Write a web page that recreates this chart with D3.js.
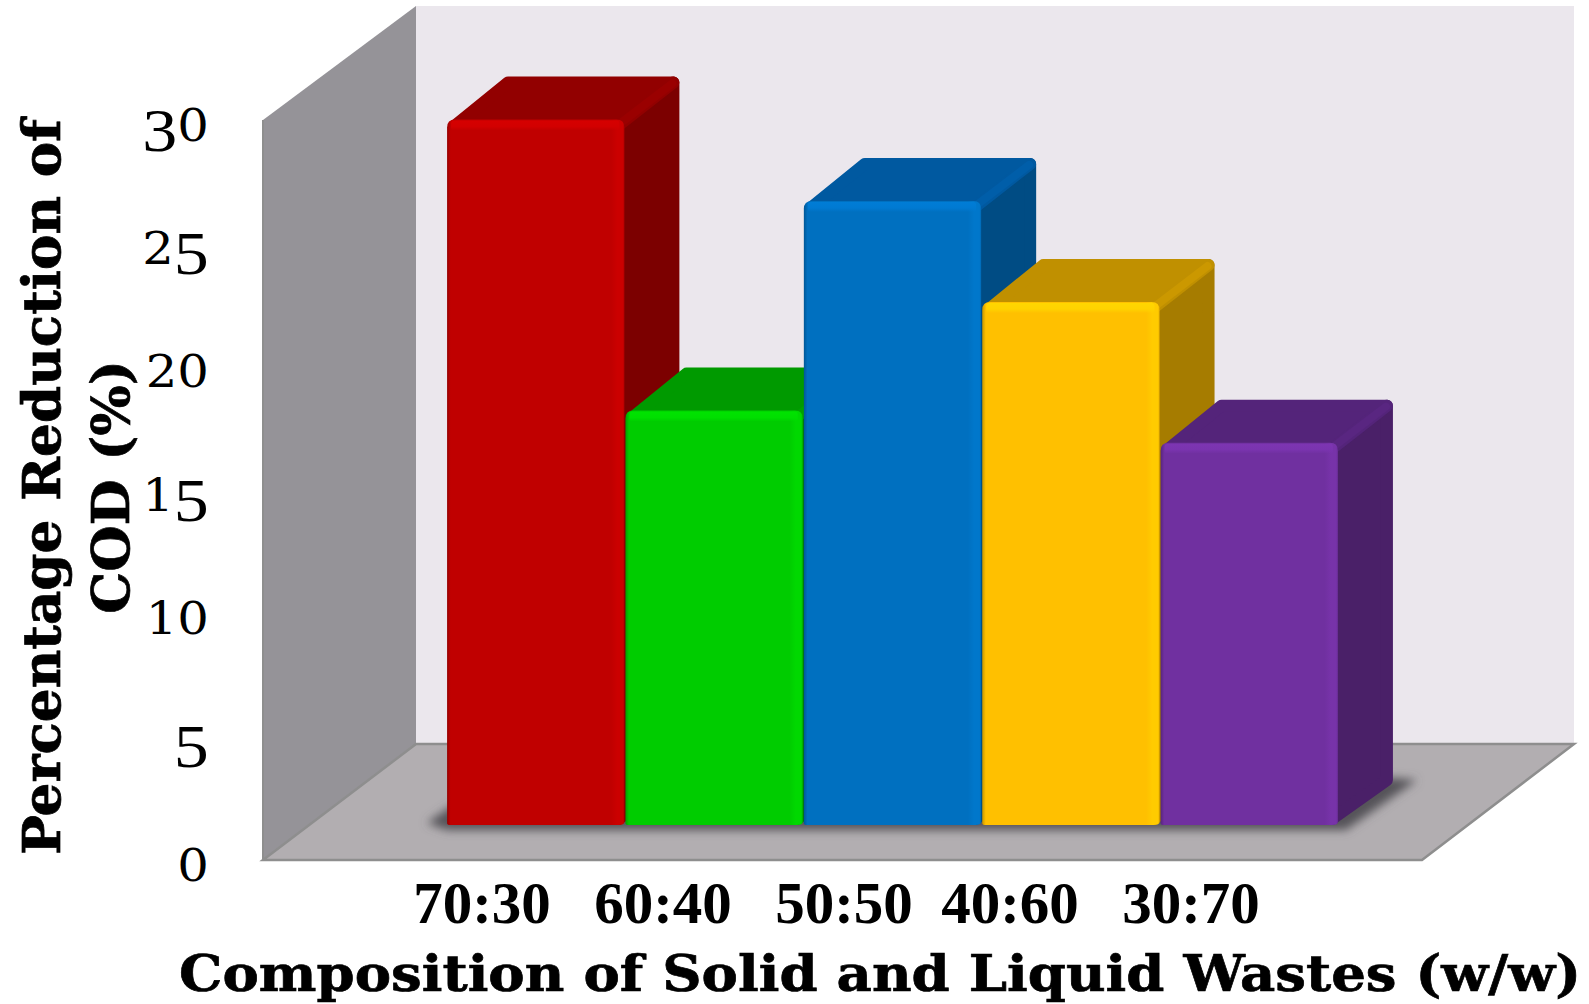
<!DOCTYPE html>
<html>

<head>
  <meta charset="UTF-8">
  <title>COD reduction</title>
  <script src="https://d3js.org/d3.v7.min.js"></script>
  <style>
    html, body { margin: 0; background: #fff; }
    svg { display: block; }
  </style>
</head>

<body>
  <svg></svg>
</body>

<script>
  // values
  let categories = ["70:30", "60:40", "50:50", "40:60", "30:70"];
  let reduction = [28.6, 16.8, 25.3, 21.2, 15.5];
  let yTicks = [0, 5, 10, 15, 20, 25, 30];
  let frontColors = ["#c00000", "#00cc00", "#0070c0", "#ffc000", "#7030a0"];
  let topColors = ["#920000", "#009a00", "#0059a0", "#c09000", "#54247a"];
  let sideColors = ["#7c0000", "#007a00", "#004c84", "#a67c00", "#4a2068"];

  let width = 1589,
    height = 1004;

  let svg = d3.select("svg")
    .attr("width", width)
    .attr("height", height)
    .attr("viewBox", "0 0 " + width + " " + height);

  let defs = svg.append("defs");

  // room corners
  let wallX = 263, backX = 416, floorRight = 1422, backRight = 1574,
    wallTop = 120, backTop = 6, frontY = 860, backY = 744;

  // bars stand a bit inside the floor
  let barDx = 55, barDy = 43, barBase = 825;

  let x = d3.scaleBand().domain(categories).range([446, 1339]).padding(0.006);
  let y = d3.scaleLinear().domain([0, 30]).range([frontY, wallTop]);
  // same scale, moved up to the line the bars stand on
  let barTop = v => y(v) - (frontY - barBase);

  let line = d3.line();

  let room = svg.append("g").attr("id", "room");

  room.append("path")
    .attr("d", line([[backX, backTop], [backRight, backTop], [backRight, backY], [backX, backY]]))
    .attr("fill", "#ebe7ed");
  room.append("path")
    .attr("d", line([[wallX, wallTop], [backX, backTop], [backX, backY], [wallX, frontY]]))
    .attr("fill", "#959398");
  room.append("path")
    .attr("d", line([[wallX, frontY], [backX, backY], [backRight, backY], [floorRight, frontY]]) + "Z")
    .attr("fill", "#b2aeb1")
    .attr("stroke", "#8e8e8e")
    .attr("stroke-width", 2.5);
  room.append("line")
    .attr("x1", wallX).attr("x2", wallX)
    .attr("y1", wallTop).attr("y2", frontY)
    .attr("stroke", "#8e8e8e")
    .attr("stroke-width", 2);

  // soft shadow on the floor
  defs.append("filter").attr("id", "blur")
    .attr("x", "-10%").attr("y", "-50%").attr("width", "120%").attr("height", "200%")
    .append("feGaussianBlur").attr("stdDeviation", 5);

  let firstX = x(categories[0]),
    lastX = x(categories[categories.length - 1]) + x.bandwidth();
  svg.append("path")
    .attr("d", line([
      [firstX - 20, barBase - 2], [firstX + 6, barBase - 20], [lastX + barDx, barBase - barDy - 4],
      [lastX + barDx + 24, barBase - barDy - 2], [lastX + 8, barBase + 5], [firstX, barBase + 5]
    ]) + "Z")
    .attr("fill", "#555358")
    .attr("filter", "url(#blur)");

  // gradients for the bevel on each front face
  frontColors.forEach((c, i) => {
    let g = defs.append("linearGradient").attr("id", "front" + i);
    let base = d3.color(c);
    let stops = [
      [0, base.darker(0.7)], [0.02, base], [0.925, base],
      [0.96, base.brighter(0.16)], [0.99, base.brighter(0.16)], [1, base.darker(0.2)]
    ];
    stops.forEach(s => g.append("stop").attr("offset", s[0]).attr("stop-color", s[1]));

    let t = defs.append("linearGradient").attr("id", "cap" + i)
      .attr("x1", 0).attr("x2", 0).attr("y1", 0).attr("y2", 1);
    t.append("stop").attr("offset", 0).attr("stop-color", base.brighter(0.3));
    t.append("stop").attr("offset", 0.6).attr("stop-color", base.brighter(0.25));
    t.append("stop").attr("offset", 1).attr("stop-color", base.brighter(0.25)).attr("stop-opacity", 0);
  });

  // rounded top corners, small rounding at the base
  function frontPath(x0, x1, yt, yb) {
    let r = 8;
    return "M" + x0 + "," + (yb - 2) +
      "V" + (yt + r) +
      "Q" + x0 + "," + yt + " " + (x0 + r) + "," + yt +
      "H" + (x1 - r) +
      "Q" + x1 + "," + yt + " " + x1 + "," + (yt + r) +
      "V" + (yb - 3) +
      "Q" + x1 + "," + yb + " " + (x1 - 6) + "," + yb +
      "H" + (x0 + 3) +
      "Q" + x0 + "," + yb + " " + x0 + "," + (yb - 2) + "Z";
  }

  let bars = svg.append("g").attr("id", "bars")
    .selectAll("g")
    .data(categories)
    .enter()
    .append("g");

  bars.each(function (d, i) {
    let g = d3.select(this),
      x0 = x(d),
      x1 = x0 + x.bandwidth(),
      yt = barTop(reduction[i]),
      r = 6;

    // side face
    g.append("path")
      .attr("d", line([[x1 - r, yt + r], [x1 + barDx - r, yt - barDy + r], [x1 + barDx - r, barBase - barDy - 2], [x1 - r, barBase - r]]) + "Z")
      .attr("fill", sideColors[i])
      .attr("stroke", sideColors[i])
      .attr("stroke-width", r * 2)
      .attr("stroke-linejoin", "round");

    // top face
    g.append("path")
      .attr("d", line([[x0 + r + 2, yt + r], [x0 + barDx + r, yt - barDy + r], [x1 + barDx - r, yt - barDy + r], [x1 - r, yt + r]]) + "Z")
      .attr("fill", topColors[i])
      .attr("stroke", topColors[i])
      .attr("stroke-width", r * 2)
      .attr("stroke-linejoin", "round");

    // lighter ridge between top and side
    g.append("line")
      .attr("x1", x1 - 3).attr("y1", yt + 3)
      .attr("x2", x1 + barDx - 7).attr("y2", yt - barDy + 7)
      .attr("stroke", d3.color(topColors[i]).brighter(0.15))
      .attr("stroke-width", 8)
      .attr("stroke-linecap", "round");

    // front face
    g.append("path")
      .attr("d", frontPath(x0, x1, yt, barBase))
      .attr("fill", "url(#front" + i + ")");

    // lit top edge of the front
    g.append("rect")
      .attr("x", x0 + 4)
      .attr("y", yt + 1)
      .attr("width", x1 - x0 - 9)
      .attr("height", 10)
      .attr("rx", 3)
      .attr("fill", "url(#cap" + i + ")");
  });

  // y axis: old style figures, 3 and 5 hang below the line
  let yAxis = svg.append("g")
    .attr("transform", "translate(209,0)")
    .call(d3.axisLeft(y).tickValues(yTicks).tickSize(0).tickPadding(0));
  yAxis.select(".domain").remove();
  let tickText = yAxis.selectAll("text")
    .attr("x", 0)
    .attr("y", 20)
    .attr("dy", null)
    .attr("text-anchor", "end")
    .attr("transform", "scale(1.13,1)")
    .attr("fill", "#000");
  tickText.each(function (d) {
    let t = d3.select(this).text(null);
    String(d).split("").forEach(ch => {
      let hanging = ch == "3" || ch == "5";
      t.append("tspan")
        .attr("font-family", hanging ? "'Liberation Serif'" : "'DejaVu Serif'")
        .attr("font-size", hanging ? 62 : 44)
        .attr("dy", hanging ? 10 : 0)
        .text(ch);
      if (hanging) t.append("tspan").attr("dy", -10).attr("font-size", 1).text("\u200a");
    });
  });

  // category labels are spaced wider than the bars, the last two sit further left
  let labelX = d3.scalePoint().domain(categories).range([482, 1206]);
  let labelNudge = { "40:60": -15, "30:70": -15 };
  svg.append("g")
    .selectAll("text")
    .data(categories)
    .enter()
    .append("text")
    .attr("x", d => labelX(d) + (labelNudge[d] || 0))
    .attr("y", 923)
    .attr("text-anchor", "middle")
    .attr("font-family", "'Liberation Serif'")
    .attr("font-weight", "bold")
    .attr("font-size", 59)
    .text(d => d);

  svg.append("text")
    .attr("x", 179)
    .attr("y", 991)
    .attr("font-family", "'DejaVu Serif'")
    .attr("font-weight", "bold")
    .attr("font-size", 51)
    .attr("stroke", "#000")
    .attr("stroke-width", 0.7)
    .attr("textLength", 1402)
    .attr("lengthAdjust", "spacingAndGlyphs")
    .text("Composition of Solid and Liquid Wastes (w/w)");

  let yTitle = svg.append("g")
    .attr("font-family", "'DejaVu Serif'")
    .attr("font-weight", "bold")
    .attr("font-size", 52)
    .attr("stroke", "#000")
    .attr("stroke-width", 0.7)
    .attr("text-anchor", "middle");
  yTitle.append("text")
    .attr("transform", "translate(60,487) rotate(-90)")
    .attr("textLength", 736)
    .attr("lengthAdjust", "spacingAndGlyphs")
    .text("Percentage Reduction of");
  yTitle.append("text")
    .attr("transform", "translate(129,487) rotate(-90)")
    .attr("textLength", 254)
    .attr("lengthAdjust", "spacingAndGlyphs")
    .text("COD (%)");
</script>

</html>
